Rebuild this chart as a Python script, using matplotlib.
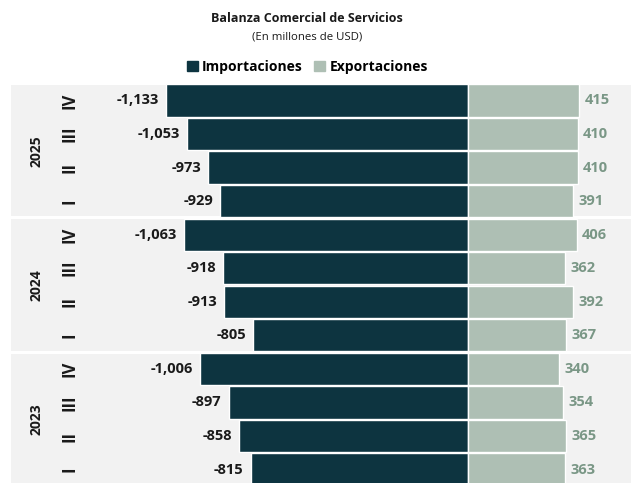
import matplotlib.pyplot as plt
from matplotlib.patches import Patch

plt.rcParams['font.family'] = ['Open Sans', 'DejaVu Sans']

years = ["2025", "2024", "2023"]
quarters = ["IV", "III", "II", "I"]
importaciones = [-1133, -1053, -973, -929,
                 -1063, -918, -913, -805,
                 -1006, -897, -858, -815]
exportaciones = [415, 410, 410, 391,
                 406, 362, 392, 367,
                 340, 354, 365, 363]

c_imp = "#0D3440"
c_exp = "#AEBFB4"
c_exp_txt = "#7A9786"
band = "#F2F2F2"

W, H = 631, 483
fig = plt.figure(figsize=(W / 100, H / 100), dpi=100)
ax = fig.add_axes([11 / W, 0, 620 / W, (483 - 84) / H])

n = len(importaciones)
ys = list(range(n))

# fondos grises por año
for g in range(len(years)):
    ax.axhspan(4 * g - 0.5 + 0.045, 4 * g + 3.5 - 0.045, color=band, zorder=0, lw=0)

ax.barh(ys, importaciones, height=0.96, color=c_imp, edgecolor="white", linewidth=1.0, zorder=2)
ax.barh(ys, exportaciones, height=0.96, color=c_exp, edgecolor="white", linewidth=1.0, zorder=2)

for y, v in zip(ys, importaciones):
    ax.annotate(f"{v:,}", (v, y), xytext=(-5, 0), textcoords="offset points",
                ha="right", va="center", fontsize=10.5, fontweight="bold", color="#1A1A1A")
for y, v in zip(ys, exportaciones):
    ax.annotate(f"{v:,}", (v, y), xytext=(4, 0), textcoords="offset points",
                ha="left", va="center", fontsize=10.5, fontweight="bold", color=c_exp_txt)

# etiquetas de año y trimestre
for g, yr in enumerate(years):
    ax.text(26 / 620, 4 * g + 1.5, yr, transform=ax.get_yaxis_transform(),
            rotation=90, ha="center", va="center", fontsize=10, fontweight="bold", color="#1A1A1A")
    for k, q in enumerate(quarters):
        ax.text(59 / 620, 4 * g + k, q, transform=ax.get_yaxis_transform(),
                rotation=90, ha="center", va="center", fontsize=12, fontweight="bold", color="#1A1A1A")

ax.set_xlim(-1712, 610)
ax.set_ylim(11.40, -0.49)
ax.axis("off")

fig.text(0.487, 1 - 18 / H, "Balanza Comercial de Servicios", ha="center", va="center",
         fontsize=9, fontweight="bold", color="#1A1A1A")
fig.text(0.487, 1 - 37 / H, "(En millones de USD)", ha="center", va="center",
         fontsize=8.2, color="#1A1A1A")

handles = [Patch(color=c_imp, label="Importaciones"), Patch(color=c_exp, label="Exportaciones")]
leg = fig.legend(handles=handles, loc="center", bbox_to_anchor=(0.487, 1 - 67 / H), ncol=2,
                 frameon=False, handlelength=0.8, handleheight=0.8, handletextpad=0.3,
                 columnspacing=0.8, prop={"weight": "bold", "size": 10})

fig.savefig("out.png", dpi=100)
